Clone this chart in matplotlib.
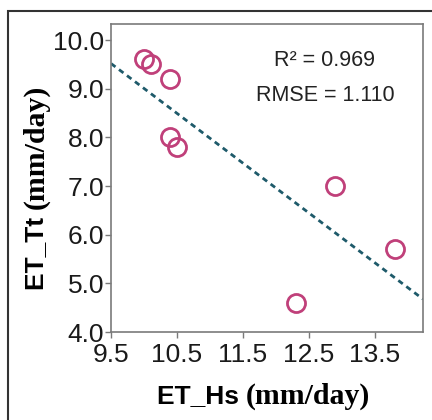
import matplotlib
matplotlib.use('Agg')
import matplotlib.pyplot as plt
from matplotlib.patches import Rectangle
import numpy as np

# values
et_hs = [10.0, 10.1, 10.4, 10.4, 10.5, 12.9, 13.8, 12.3]
et_tt = [9.6, 9.5, 9.2, 8.0, 7.8, 7.0, 5.7, 4.6]
xticks = [9.5, 10.5, 11.5, 12.5, 13.5]
yticks = [4.0, 5.0, 6.0, 7.0, 8.0, 9.0, 10.0]
stats = ['R\u00b2 = 0.969', 'RMSE = 1.110']

fig = plt.figure(figsize=(4.32, 4.20), dpi=100)
ax = fig.add_axes([0.257, 0.2095, 0.722, 0.7335])

# outer frame that runs off the right and bottom edge
fig.patches.append(Rectangle((0.0185, -0.1), 1.2, 0.974 + 0.1, transform=fig.transFigure,
                             fill=False, edgecolor='#333333', linewidth=1.5))

ax.set_xlim(9.5, 14.23)
ax.set_ylim(4.0, 10.33)

# regression line over the full x range
k, b = np.polyfit(et_hs, et_tt, 1)
xs = np.array(ax.get_xlim())
ax.plot(xs, k * xs + b, color='#1E5A6A', linewidth=2.0, linestyle=(0, (2.0, 1.6)))

ax.plot(et_hs, et_tt, linestyle='none', marker='o', markersize=13,
        markerfacecolor='none', markeredgecolor='#C0407A', markeredgewidth=2.0)

ax.set_xticks(xticks)
ax.set_yticks(yticks)
ax.set_xticklabels(['%.1f' % v for v in xticks])
ax.set_yticklabels(['%.1f' % v for v in yticks])
for s in ax.spines.values():
    s.set_color('#7a7a7a')
    s.set_linewidth(1.2)
ax.tick_params(direction='out', length=4, width=1, color='#7a7a7a',
               labelsize=19, labelcolor='#1a1a1a')
ax.tick_params(axis='x', pad=4)
ax.tick_params(axis='y', pad=1)
for lab in ax.get_xticklabels() + ax.get_yticklabels():
    lab.set_fontfamily('Liberation Sans')

ax.text(0.686, 0.88, stats[0], transform=ax.transAxes, ha='center', va='center',
        fontsize=15.5, fontfamily='Liberation Sans', color='#222222')
ax.text(0.686, 0.769, stats[1], transform=ax.transAxes, ha='center', va='center',
        fontsize=15.5, fontfamily='Liberation Sans', color='#222222')

# axis titles: sans bold part + serif bold part
fig.canvas.draw()
r = fig.canvas.get_renderer()

t1 = fig.text(0.363, 0.040, 'ET_Hs ', fontsize=19, fontweight='bold',
              fontfamily='Liberation Sans', ha='left', va='baseline')
w1 = t1.get_window_extent(r).width / fig.bbox.width
fig.text(0.363 + w1, 0.040, '(mm/day)', fontsize=21.5, fontweight='bold',
         fontfamily='Liberation Serif', ha='left', va='baseline')

t3 = fig.text(0.0995, 0.31, 'ET_Tt ', fontsize=19, fontweight='bold',
              fontfamily='Liberation Sans', ha='left', va='baseline',
              rotation=90, rotation_mode='anchor')
h3 = t3.get_window_extent(r).height / fig.bbox.height
fig.text(0.0995, 0.31 + h3, '(mm/day)', fontsize=21.5, fontweight='bold',
         fontfamily='Liberation Serif', ha='left', va='baseline',
         rotation=90, rotation_mode='anchor')

fig.savefig('out.png', dpi=100)
